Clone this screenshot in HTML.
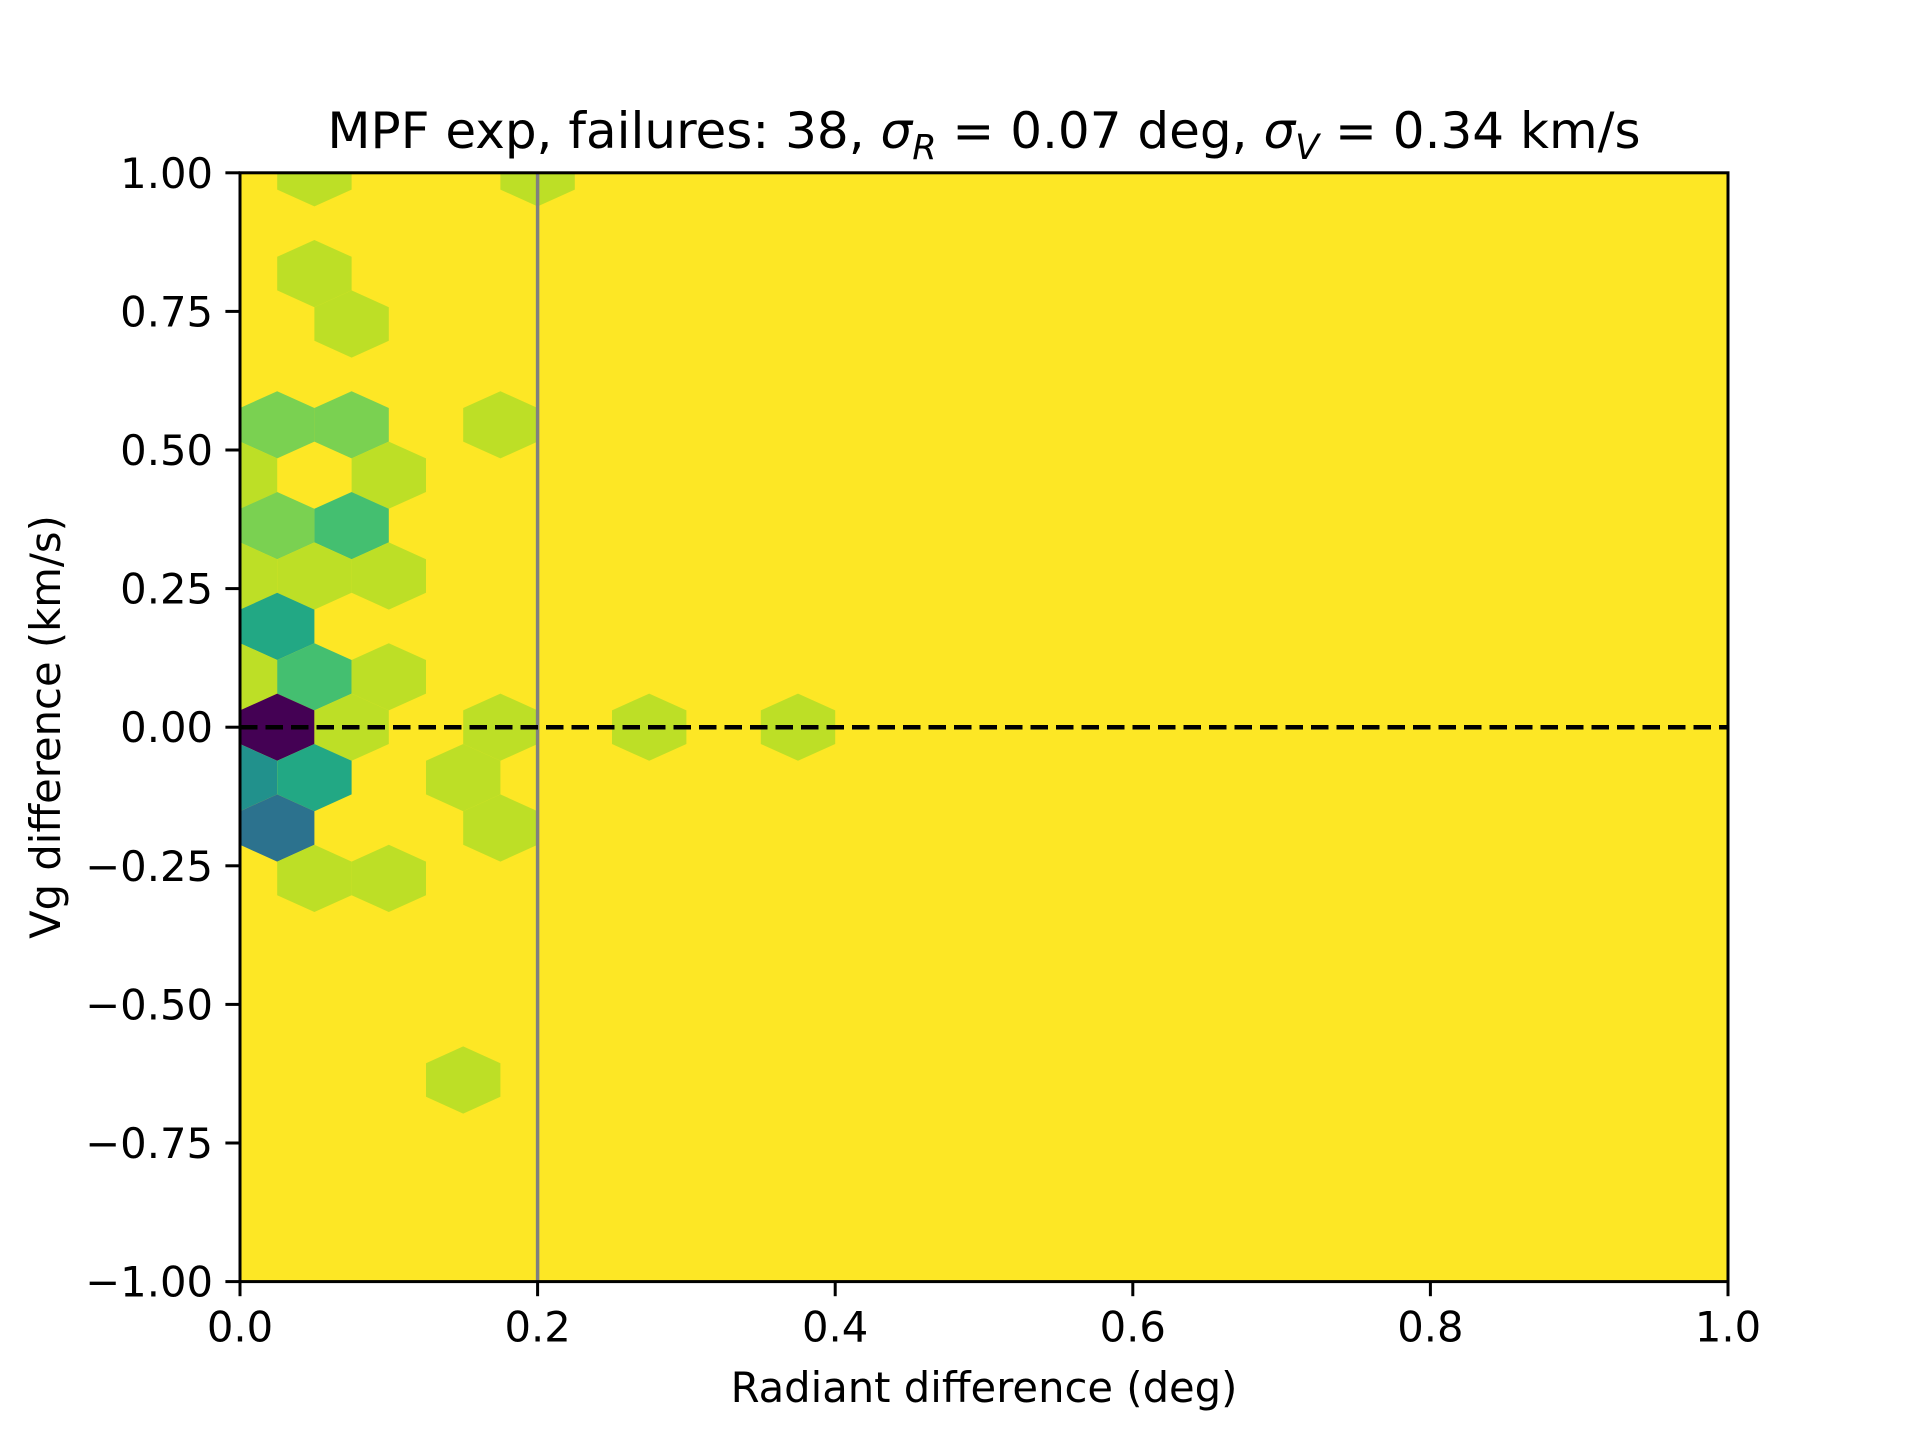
<!DOCTYPE html>
<html><head><meta charset="utf-8"><style>html,body{margin:0;padding:0;background:#fff}svg{display:block}</style></head>
<body>
<svg id="chart" width="1920" height="1440" viewBox="0 0 1920 1440" xmlns="http://www.w3.org/2000/svg" font-family="'DejaVu Sans','Liberation Sans',sans-serif">
<defs><clipPath id="clip"><rect x="240" y="172.8" width="1488" height="1108.8"/></clipPath></defs>
<rect x="240" y="172.8" width="1488" height="1108.8" fill="#fde725"/>
<g id="hexes" clip-path="url(#clip)"></g>
<g id="refs"></g>
<rect x="240" y="172.8" width="1488" height="1108.8" fill="none" stroke="#000" stroke-width="3"/>
<g id="axes"></g>
<text x="984" y="148" font-size="50" text-anchor="middle">MPF exp, failures: 38, <tspan font-style="italic">σ</tspan><tspan font-size="35" dy="11" font-style="italic">R</tspan><tspan dy="-11"> = 0.07 deg, </tspan><tspan font-style="italic">σ</tspan><tspan font-size="35" dy="11" font-style="italic">V</tspan><tspan dy="-11"> = 0.34 km/s</tspan></text>
<text x="984" y="1402" font-size="41.7" text-anchor="middle">Radiant difference (deg)</text>
<text transform="translate(60,727) rotate(-90)" font-size="41.7" text-anchor="middle">Vg difference (km/s)</text>
</svg>
<script>
// hexbin cells: row index k (y = k/11), x centre, count
const cellRows = [11,11,9,8,6,6,6,5,5,4,4,3,3,3,2,1,1,1,0,0,0,0,0,-1,-1,-1,-2,-2,-3,-3,-7];
const cellX = [0.05,0.2,0.05,0.075,0.025,0.075,0.175,0,0.1,0.025,0.075,0,0.05,0.1,0.025,0,0.05,0.1,0.025,0.075,0.175,0.275,0.375,0,0.05,0.15,0.025,0.175,0.05,0.1,0.15];
const cellCounts = [1,1,1,1,2,2,1,1,1,2,3,1,1,1,4,1,3,1,10,1,1,1,1,5,4,1,6,1,1,1,1];
const maxCount = 10;
const xTicks = [0,0.2,0.4,0.6,0.8,1.0];
const xTickLabels = ["0.0","0.2","0.4","0.6","0.8","1.0"];
const yTicks = [-1,-0.75,-0.5,-0.25,0,0.25,0.5,0.75,1];
const yTickLabels = ["\u22121.00","\u22120.75","\u22120.50","\u22120.25","0.00","0.25","0.50","0.75","1.00"];
const refX = 0.2, refY = 0;

const L=240,R=1728,T=172.8,B=1281.6;
const sx = v => L + v*(R-L);
const sy = v => B - (v+1)/2*(B-T);
function cmap(t){
  const stops=[[0,"#440154"],[0.4,"#2c728e"],[0.5,"#21918c"],[0.6,"#22a884"],[0.7,"#44bf70"],[0.8,"#7ad151"],[0.9,"#bddf26"],[1,"#fde725"]];
  for(let i=0;i<stops.length-1;i++){ if(t<=stops[i+1][0]+1e-9){
    const a=stops[i],b=stops[i+1];const f=(t-a[0])/(b[0]-a[0]);
    const p=c=>[1,3,5].map(j=>parseInt(c.substr(j,2),16));
    const ca=p(a[1]),cb=p(b[1]);return "rgb("+ca.map((v,j)=>Math.round(v+(cb[j]-v)*f)).join(",")+")";}}
  return "#fde725";
}
const NS="http://www.w3.org/2000/svg";
const hg=document.getElementById('hexes');
const hw=0.025, sy6=(2/11)/6;
for(let i=0;i<cellRows.length;i++){
  const cx=cellX[i], cy=cellRows[i]/11;
  const pts=[[hw,-sy6],[hw,sy6],[0,2*sy6],[-hw,sy6],[-hw,-sy6],[0,-2*sy6]].map(p=>sx(cx+p[0]).toFixed(1)+","+sy(cy+p[1]).toFixed(1)).join(" ");
  const poly=document.createElementNS(NS,'polygon');
  poly.setAttribute('points',pts);
  poly.setAttribute('fill',cmap(1-cellCounts[i]/maxCount));
  
  
  hg.appendChild(poly);
}
const rg=document.getElementById('refs');
const vl=document.createElementNS(NS,'line');
vl.setAttribute('x1',sx(refX));vl.setAttribute('x2',sx(refX));vl.setAttribute('y1',T);vl.setAttribute('y2',B);
vl.setAttribute('stroke','#808080');vl.setAttribute('stroke-width','3.5');


rg.appendChild(vl);
const hl=document.createElementNS(NS,'line');
hl.setAttribute('x1',L);hl.setAttribute('x2',R);hl.setAttribute('y1',sy(refY));hl.setAttribute('y2',sy(refY));
hl.setAttribute('stroke','#000');hl.setAttribute('stroke-width','4.5');hl.setAttribute('stroke-dasharray','17.5 8');


rg.appendChild(hl);
const ag=document.getElementById('axes');
xTicks.forEach((v,i)=>{
  const x=sx(v);
  const t=document.createElementNS(NS,'line');
  t.setAttribute('x1',x);t.setAttribute('x2',x);t.setAttribute('y1',B);t.setAttribute('y2',B+14.6);
  t.setAttribute('stroke','#000');t.setAttribute('stroke-width','3');
  
  
  ag.appendChild(t);
  const tx=document.createElementNS(NS,'text');
  tx.setAttribute('x',x);tx.setAttribute('y',B+60);tx.setAttribute('font-size','41.7');tx.setAttribute('text-anchor','middle');
  tx.textContent=xTickLabels[i];
  
  
  ag.appendChild(tx);
});
yTicks.forEach((v,i)=>{
  const y=sy(v);
  const t=document.createElementNS(NS,'line');
  t.setAttribute('x1',L-14.6);t.setAttribute('x2',L);t.setAttribute('y1',y);t.setAttribute('y2',y);
  t.setAttribute('stroke','#000');t.setAttribute('stroke-width','3');
  
  
  ag.appendChild(t);
  const tx=document.createElementNS(NS,'text');
  tx.setAttribute('x',L-27);tx.setAttribute('y',y+15);tx.setAttribute('font-size','41.7');tx.setAttribute('text-anchor','end');
  tx.textContent=yTickLabels[i];
  
  
  ag.appendChild(tx);
});
</script>
</body></html>
